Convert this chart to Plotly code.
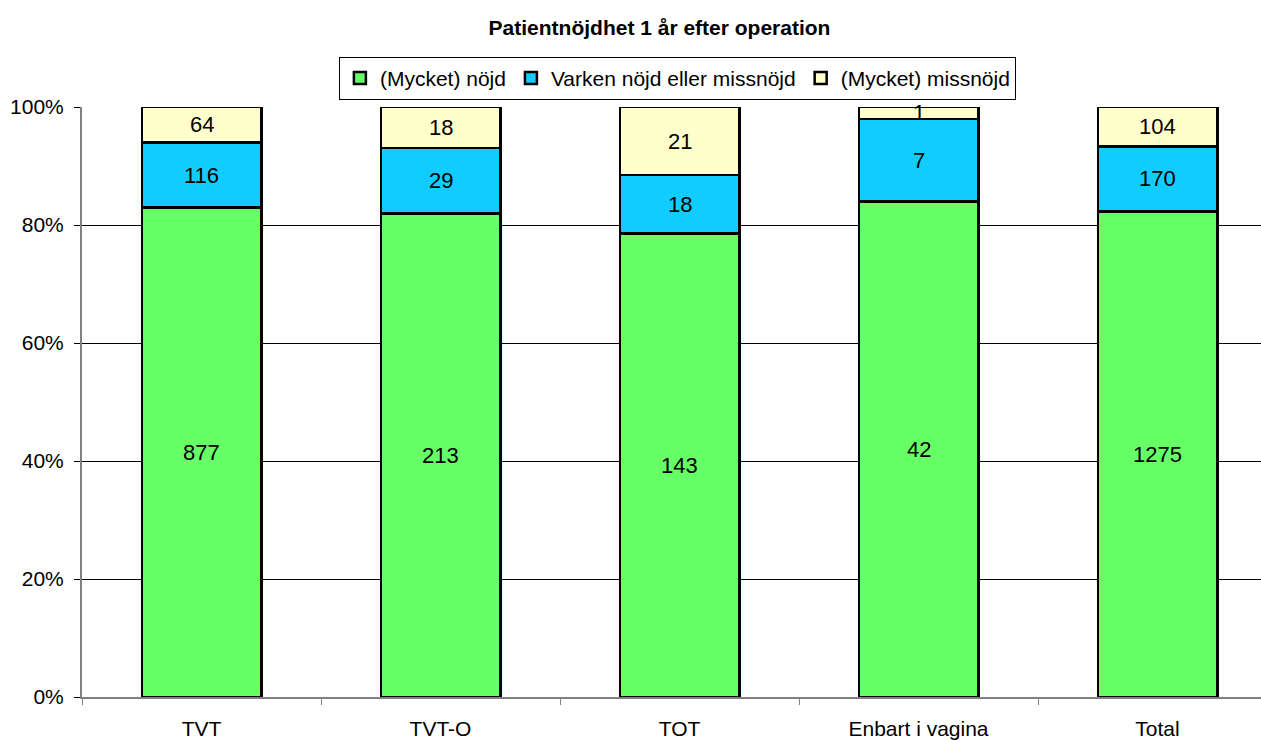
import plotly.graph_objects as go

categories = ["TVT", "TVT-O", "TOT", "Enbart i vagina", "Total"]
satisfied = [877, 213, 143, 42, 1275]
neutral = [116, 29, 18, 7, 170]
dissatisfied = [64, 18, 21, 1, 104]
y_ticks = [0, 20, 40, 60, 80, 100]
y_tick_labels = ["0%", "20%", "40%", "60%", "80%", "100%"]

series = [
    ("(Mycket) nöjd", satisfied, "#66FF66"),
    ("Varken nöjd eller missnöjd", neutral, "#11CCFF"),
    ("(Mycket) missnöjd", dissatisfied, "#FFFFCC"),
]

FONT = "Liberation Sans, Arial"

totals = [sum(v) for v in zip(satisfied, neutral, dissatisfied)]

fig = go.Figure()
for name, vals, color in series:
    fig.add_trace(go.Bar(
        x=categories, y=vals, name=name,
        marker=dict(color=color, line=dict(color="black", width=2.5)),
        width=0.5,
    ))

# data labels (counts) at the middle of each stacked percent segment
annotations = []
base = [0.0] * len(categories)
for name, vals, color in series:
    for i, (cat, v) in enumerate(zip(categories, vals)):
        pct = 100.0 * v / totals[i]
        annotations.append(dict(
            x=cat, y=base[i] + pct / 2, xref="x", yref="y",
            text=str(v), showarrow=False,
            font=dict(family=FONT, size=22, color="black"),
        ))
        base[i] += pct

fig.update_layout(
    barmode="stack", barnorm="percent",
    width=1261, height=740,
    margin=dict(l=82, r=0, t=107, b=43),
    paper_bgcolor="white", plot_bgcolor="white",
    font=dict(family=FONT, size=22, color="black"),
    annotations=annotations,
    title=dict(text="<b>Patientnöjdhet 1 år efter operation</b>",
               x=0.523, xanchor="center", y=0.962, yanchor="middle",
               font=dict(size=21, family=FONT)),
    legend=dict(orientation="h", x=0.505, xanchor="center", y=1.085, yanchor="top",
                bordercolor="black", borderwidth=1, bgcolor="white",
                font=dict(size=21), itemwidth=30, traceorder="normal",
                itemclick=False),
    showlegend=True,
)
fig.update_xaxes(
    range=[-0.5, 4.433], showline=True, linecolor="#808080", linewidth=2,
    ticks="outside", tickson="boundaries", ticklen=6, tickcolor="#808080",
    showgrid=False, tickfont=dict(size=21), ticklabelstandoff=12,
)
fig.update_yaxes(
    range=[0, 100], tickmode="array", tickvals=y_ticks, ticktext=y_tick_labels,
    showline=True, linecolor="#808080", linewidth=2,
    ticks="outside", ticklen=6, tickcolor="black",
    showgrid=True, gridcolor="black", gridwidth=1, zeroline=False,
    tickfont=dict(size=21), ticklabelstandoff=6,
)

fig.write_html("out.html")
